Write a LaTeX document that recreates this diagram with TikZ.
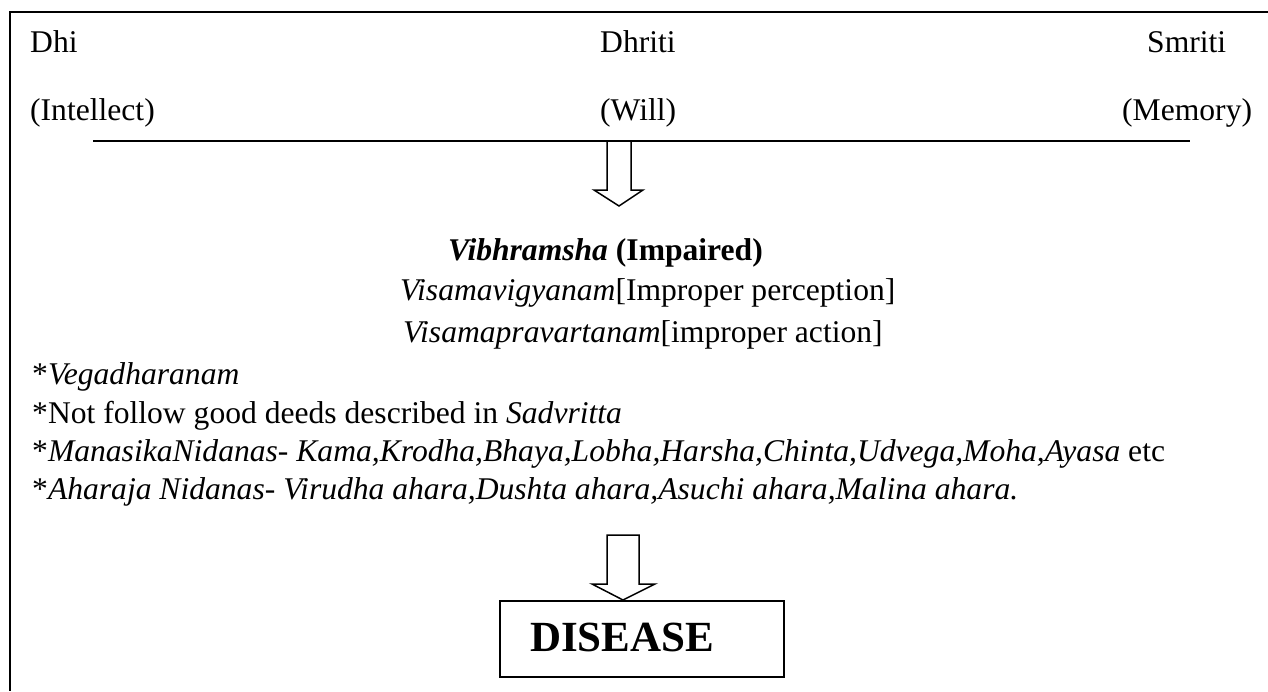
\documentclass[tikz,border=0pt]{standalone}
\usepackage{fontspec}
\setmainfont{Liberation Serif}
\usepackage{tikz}
\usetikzlibrary{calc}

\begin{document}
\begin{tikzpicture}[x=1pt, y=-1pt, font=\fontsize{31.6}{37.5}\selectfont,
  every node/.style={inner sep=0pt, anchor=base west}]
\useasboundingbox (0,0) rectangle (1268,691);
% frame, open to the right and bottom
\draw[line width=2] (1268,12)--(10,12)--(10,691);
% top row
\path
(30,52) node (dhi){Dhi};
\path
(600,52) node (dhriti){Dhriti};
\path
(1147,52) node (smriti){Smriti};
\path
(30,120) node (intellect){(Intellect)};
\path
(600,120) node (will){(Will)};
\path
(1122,120) node (memory){(Memory)};
\draw[line width=1.5] (93,141)--(1190,141);
% first hollow arrow
\draw[line width=1.5, line join=miter] (607,141)--(607,190)--(594,190)--(619,206)--(643,190)--(631,190)--(631,141)--cycle;
% middle block
\path
(448,260) node (vibhram){\textbf{\textit{Vibhramsha} (Impaired)}};
\path
(400,300.5) node (vigyan){\textit{Visamavigyanam}[Improper perception]};
\path
(403,342) node (pravart){\textit{Visamapravartanam}[improper action]};
% causes
\path
(32,384) node (vega){*\textit{Vegadharanam}};
\path
(32,423) node (sadvr){*Not follow good deeds described in \textit{Sadvritta}};
\path
(32,461) node (manas){*\textit{ManasikaNidanas- Kama,Krodha,Bhaya,Lobha,Harsha,Chinta,Udvega,Moha,Ayasa} etc};
\path
(32,499) node (ahara){*\textit{Aharaja Nidanas- Virudha ahara,Dushta ahara,Asuchi ahara,Malina ahara.}};
% second hollow arrow
\draw[line width=1.5, line join=miter] (607,535)--(607,584)--(592,584)--(623,600)--(655,584)--(639,584)--(639,535)--cycle;
% result
\draw[line width=2] (500,601) rectangle (784,677);
\path
(530,651) node[font=\fontsize{43}{50}\selectfont\bfseries] (disease){DISEASE};
\end{tikzpicture}
\end{document}
